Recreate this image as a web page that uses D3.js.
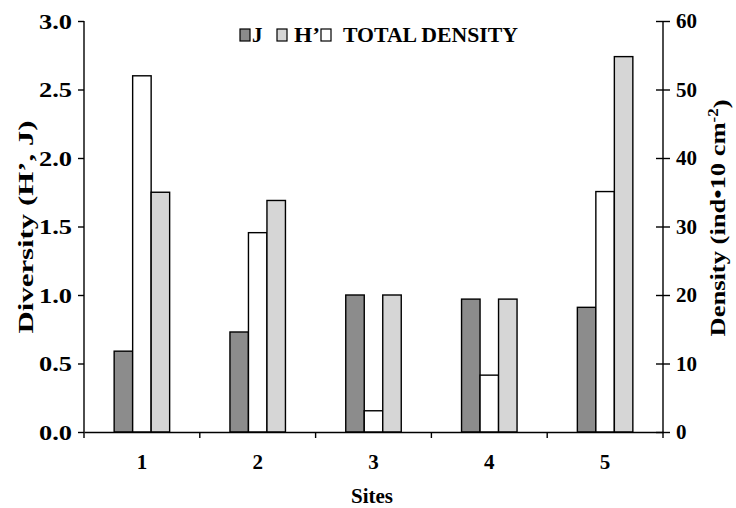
<!DOCTYPE html>
<html>
<head>
<meta charset="utf-8">
<script src="https://cdn.jsdelivr.net/npm/d3@7"></script>
<style>
  body { margin: 0; background: #fff; }
  text { font-family: "Liberation Serif", "Times New Roman", serif; font-weight: bold; fill: #000; }
</style>
</head>
<body>
<svg id="chart" width="736" height="508"></svg>
<script>
// data
const sites = ["1", "2", "3", "4", "5"];
const evenness = [0.59, 0.73, 1.00, 0.97, 0.91];      // J (left axis)
const density = [52, 29.1, 3.1, 8.3, 35.1];           // total density (right axis)
const shannon = [1.75, 1.69, 1.00, 0.97, 2.74];       // H' (left axis)
const leftTicks = [0, 0.5, 1.0, 1.5, 2.0, 2.5, 3.0];
const rightTicks = [0, 10, 20, 30, 40, 50, 60];

const svg = d3.select('#chart');
const m = {left: 84, right: 663, top: 21, bottom: 432};

const x0 = d3.scaleBand().domain(sites).range([m.left, m.right]).padding(0);
const keys = ["J", "D", "H"];
const x1 = d3.scaleBand().domain(keys).range([0, x0.bandwidth()]).paddingInner(0).paddingOuter(1.63);
const yL = d3.scaleLinear().domain([0, 3]).range([m.bottom, m.top]);
const yR = d3.scaleLinear().domain([0, 60]).range([m.bottom, m.top]);

const fills = {J: "#8c8c8c", D: "#ffffff", H: "#d6d6d6"};

const rows = sites.map((s, i) => ({site: s, J: evenness[i], D: density[i], H: shannon[i]}));

// stretch a text along its own direction to a wanted length
function stretch(sel, factor) {
    sel.each(function () {
        const len = this.getComputedTextLength();
        d3.select(this).attr('textLength', len * factor).attr('lengthAdjust', 'spacingAndGlyphs');
    });
}

const g = svg.append('g');
rows.forEach(r => {
    keys.forEach(k => {
        const y = k === "D" ? yR(r[k]) : yL(r[k]);
        g.append('rect')
            .attr('x', x0(r.site) + x1(k))
            .attr('y', y)
            .attr('width', x1.bandwidth())
            .attr('height', m.bottom - y)
            .attr('fill', fills[k])
            .attr('stroke', '#000')
            .attr('stroke-width', 1.4);
    });
});

// left axis
const axL = svg.append('g').attr('transform', `translate(${m.left},0)`)
    .call(d3.axisLeft(yL).tickValues(leftTicks).tickFormat(d3.format('.1f')).tickSize(6).tickPadding(6));
// right axis, ticks cross the line
const axR = svg.append('g').attr('transform', `translate(${m.right},0)`)
    .call(d3.axisRight(yR).tickValues(rightTicks).tickSize(7).tickPadding(6));
axR.selectAll('.tick line').attr('x1', -7);
// bottom axis: ticks at the category boundaries
const axB = svg.append('g').attr('transform', `translate(0,${m.bottom})`)
    .call(d3.axisBottom(x0).tickSize(0).tickPadding(22));
axB.selectAll('.boundary').data(d3.range(sites.length + 1)).enter()
    .append('line')
    .attr('x1', i => m.left + i * x0.step()).attr('x2', i => m.left + i * x0.step())
    .attr('y1', 0).attr('y2', 6).attr('stroke', '#000').attr('stroke-width', 1.4);

[axL, axR, axB].forEach(a => {
    a.select('.domain').attr('stroke', '#000').attr('stroke-width', 1.4);
    a.selectAll('.tick line').attr('stroke', '#000').attr('stroke-width', 1.4);
    a.selectAll('text').style('font-size', '21px').style('font-family', '"Liberation Serif", serif').style('font-weight', 'bold');
});
axL.select('.domain').attr('d', `M0,${m.top}V${m.bottom}`);
axR.select('.domain').attr('d', `M0,${m.top}V${m.bottom}`);
axL.selectAll('.tick text').style('font-size', '22px');
stretch(axL.selectAll('.tick text'), 1.2);

// axis titles
const lt = svg.append('text').attr('transform', 'translate(25,227) rotate(-90)')
    .attr('text-anchor', 'middle').attr('dy', '0.35em').style('font-size', '22px')
    .text("Diversity (H\u2019, J)");
stretch(lt, 213 / lt.node().getComputedTextLength());

const rt = svg.append('g').attr('transform', 'translate(717,218) rotate(-90)');
const rtt = rt.append('text').attr('text-anchor', 'middle').attr('dy', '0.35em').style('font-size', '22px');
rtt.append('tspan').text('Density (ind\u202210 cm');
rtt.append('tspan').attr('dy', '-0.45em').style('font-size', '14px').text('-2');
rtt.append('tspan').attr('dy', '0.45em').text(')');
const rw = rtt.node().getBBox().width;
rtt.attr('transform', `scale(${237 / rw},1)`);

svg.append('text').attr('x', 372).attr('y', 503).attr('text-anchor', 'middle')
    .style('font-size', '21px').text('Sites');

// legend
const legend = [
    {key: "J", label: "J", sx: 240, tx: 252, w: 0},
    {key: "H", label: "H\u2019", sx: 277, tx: 294, w: 26},
    {key: "D", label: "TOTAL DENSITY", sx: 321, tx: 343, w: 175}
];
const lg = svg.append('g');
legend.forEach(l => {
    lg.append('rect').attr('x', l.sx).attr('y', 29).attr('width', 10).attr('height', 12)
        .attr('fill', fills[l.key]).attr('stroke', '#000').attr('stroke-width', 1.2);
    const t = lg.append('text').attr('x', l.tx).attr('y', 42).style('font-size', '21px').text(l.label);
    if (l.w) t.attr('textLength', l.w).attr('lengthAdjust', 'spacingAndGlyphs');
});
</script>
</body>
</html>
